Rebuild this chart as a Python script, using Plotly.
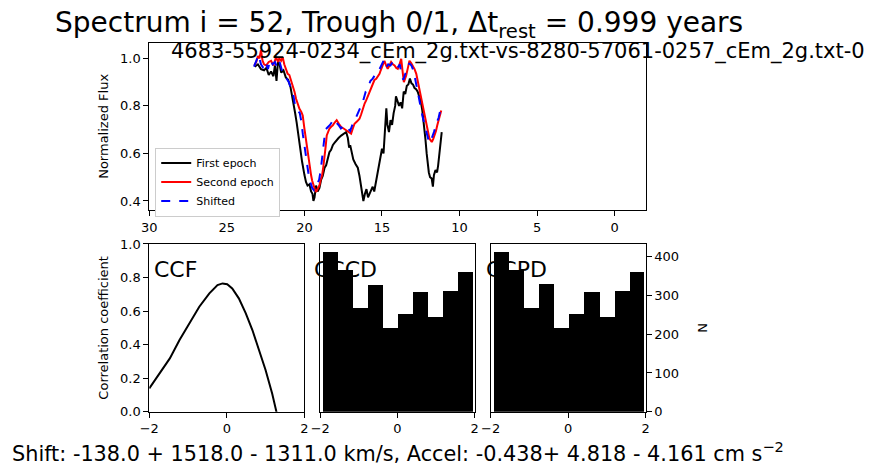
import plotly.graph_objects as go

# first epoch spectrum (rest wavelength, normalized flux)
first_wave = [23.2, 23.0, 22.8, 22.6, 22.45, 22.3, 22.15, 22.0, 21.9, 21.8, 21.7, 21.6, 21.5, 21.35,
              21.2, 21.05, 20.9, 20.75, 20.6, 20.5, 20.37, 20.25, 20.15, 20.0, 19.9, 19.8, 19.68,
              19.57, 19.48, 19.42, 19.35, 19.25, 19.15, 19.03, 18.92, 18.82, 18.7, 18.6, 18.5,
              18.39, 18.28, 18.17, 18.06, 17.95, 17.8, 17.63, 17.45, 17.31, 17.2, 17.12, 17.05,
              16.95, 16.85, 16.7, 16.56, 16.45, 16.35, 16.28, 16.2, 16.1, 16.0, 15.9, 15.8, 15.7,
              15.6, 15.5, 15.4, 15.3, 15.2, 15.1, 15.0, 14.9, 14.8, 14.72, 14.65, 14.55, 14.45,
              14.35, 14.25, 14.15, 14.1, 14.0, 13.9, 13.8, 13.7, 13.6, 13.5, 13.4, 13.3, 13.2,
              13.1, 13.0, 12.9, 12.8, 12.7, 12.6, 12.5, 12.4, 12.3, 12.2, 12.12, 12.05, 11.98,
              11.9, 11.8, 11.72, 11.65, 11.55, 11.45, 11.38, 11.3, 11.2, 11.15]
first_flux = [0.965, 0.975, 0.955, 0.95, 0.96, 0.93, 0.945, 0.925, 0.97, 0.905, 0.99, 0.975, 0.94, 0.95,
              0.92, 0.91, 0.88, 0.83, 0.77, 0.73, 0.665, 0.62, 0.565, 0.51, 0.48, 0.465, 0.47,
              0.44, 0.43, 0.40, 0.415, 0.465, 0.44, 0.455, 0.49, 0.505, 0.54, 0.55, 0.575,
              0.605, 0.615, 0.635, 0.645, 0.655, 0.665, 0.675, 0.685, 0.69, 0.665, 0.625, 0.635,
              0.6, 0.575, 0.555, 0.54, 0.505, 0.46, 0.43, 0.40, 0.43, 0.45, 0.415, 0.43, 0.445,
              0.46, 0.44, 0.475, 0.5, 0.54, 0.575, 0.62, 0.6, 0.69, 0.79, 0.72, 0.69, 0.74,
              0.72, 0.77, 0.80, 0.84, 0.82, 0.80, 0.815, 0.79, 0.86, 0.85, 0.885, 0.89, 0.915,
              0.895, 0.89, 0.875, 0.87, 0.86, 0.84, 0.82, 0.78, 0.73, 0.66, 0.6, 0.555, 0.52,
              0.5, 0.495, 0.46, 0.51, 0.53, 0.52, 0.55, 0.6, 0.66, 0.69]

# second epoch spectrum
second_wave = [23.23, 23.1, 23.0, 22.9, 22.8, 22.7, 22.6, 22.47, 22.3, 22.15, 22.0, 21.83, 21.7, 21.62,
               21.5, 21.4, 21.3, 21.18, 21.08, 20.97, 20.85, 20.75, 20.64, 20.54, 20.43, 20.32,
               20.2, 20.11, 20.0, 19.93, 19.85, 19.78, 19.72, 19.65, 19.57, 19.5, 19.42, 19.33,
               19.25, 19.15, 19.03, 18.95, 18.86, 18.78, 18.71, 18.63, 18.56, 18.48, 18.39, 18.28,
               18.17, 18.05, 17.92, 17.78, 17.63, 17.47, 17.31, 17.15, 16.99, 16.88, 16.77, 16.6,
               16.45, 16.34, 16.24, 16.12, 16.02, 15.92, 15.81, 15.7, 15.59, 15.48, 15.37, 15.26,
               15.16, 15.08, 15.01, 14.92, 14.84, 14.73, 14.63, 14.52, 14.41, 14.3, 14.19, 14.08,
               13.98, 13.87, 13.76, 13.68, 13.59, 13.51, 13.44, 13.33, 13.23, 13.12, 13.01, 12.9,
               12.79, 12.68, 12.58, 12.47, 12.37, 12.26, 12.15, 12.05, 11.94, 11.86, 11.79, 11.7,
               11.61, 11.52, 11.44, 11.3, 11.18]
second_flux = [0.97, 0.985, 1.01, 1.0, 1.034, 0.99, 0.975, 0.97, 0.985, 0.99, 0.97, 1.005, 0.985, 1.0,
               0.99, 1.005, 0.975, 0.956, 0.935, 0.93, 0.905, 0.887, 0.86, 0.83, 0.805, 0.788,
               0.775, 0.76, 0.704, 0.67, 0.634, 0.6, 0.564, 0.535, 0.508, 0.485, 0.466, 0.45,
               0.438, 0.45, 0.466, 0.49, 0.508, 0.545, 0.578, 0.63, 0.676, 0.69, 0.704, 0.712,
               0.718, 0.73, 0.74, 0.725, 0.711, 0.705, 0.697, 0.69, 0.683, 0.705, 0.725, 0.735,
               0.746, 0.765, 0.788, 0.81, 0.823, 0.84, 0.858, 0.88, 0.90, 0.91, 0.914, 0.925,
               0.935, 0.95, 0.963, 0.975, 0.99, 0.97, 0.956, 0.97, 0.985, 0.975, 0.97, 0.96,
               0.956, 0.975, 0.998, 0.95, 0.90, 0.915, 0.928, 0.96, 0.99, 0.98, 0.97, 0.955,
               0.935, 0.9, 0.858, 0.82, 0.788, 0.75, 0.718, 0.69, 0.662, 0.655, 0.648, 0.66,
               0.676, 0.695, 0.718, 0.75, 0.781]

# second epoch after the best-fit shift
shifted_wave = [23.25, 23.1, 22.95, 22.8, 22.65, 22.5, 22.35, 22.2, 22.05, 21.9, 21.75, 21.6, 21.45,
                21.3, 21.15, 21.0, 20.85, 20.7, 20.6, 20.45, 20.3, 20.2, 20.1, 19.98, 19.85, 19.75,
                19.62, 19.5, 19.38, 19.28, 19.18, 19.05, 18.95, 18.85, 18.75, 18.65, 18.5, 18.35,
                18.2, 18.05, 17.95, 17.8, 17.65, 17.5, 17.35, 17.2, 17.05, 16.95, 16.8, 16.65,
                16.5, 16.35, 16.2, 16.05, 15.9, 15.75, 15.6, 15.45, 15.3, 15.15, 15.0, 14.9, 14.75,
                14.6, 14.45, 14.3, 14.15, 14.0, 13.85, 13.75, 13.62, 13.5, 13.35, 13.25, 13.1,
                12.95, 12.85, 12.7, 12.55, 12.4, 12.25, 12.1, 12.0, 11.9, 11.8, 11.65, 11.5, 11.35,
                11.23]
shifted_flux = [0.965, 0.99, 1.015, 0.975, 0.96, 0.985, 0.955, 0.995, 0.975, 0.985, 0.96, 0.985, 0.95,
                0.94, 0.915, 0.9, 0.87, 0.84, 0.8, 0.78, 0.77, 0.735, 0.68, 0.62, 0.56, 0.52,
                0.48, 0.455, 0.445, 0.45, 0.47, 0.49, 0.53, 0.585, 0.655, 0.7, 0.71, 0.72,
                0.735, 0.745, 0.73, 0.72, 0.705, 0.715, 0.70, 0.705, 0.695, 0.715, 0.74, 0.755,
                0.775, 0.8, 0.825, 0.86, 0.875, 0.905, 0.915, 0.93, 0.935, 0.955, 0.975, 0.99, 0.96,
                0.975, 0.97, 0.985, 0.965, 0.96, 0.975, 0.93, 0.91, 0.935, 0.95, 0.98, 0.97,
                0.945, 0.91, 0.86, 0.8, 0.76, 0.72, 0.68, 0.655, 0.645, 0.66, 0.69, 0.725, 0.75,
                0.785]

# cross-correlation function
ccf_lag = [-2.0, -1.73, -1.47, -1.22, -0.96, -0.71, -0.45, -0.24, -0.11, 0.01, 0.14, 0.31, 0.49,
           0.66, 0.83, 1.0, 1.17, 1.27, 1.4]
ccf_r = [0.139, 0.229, 0.318, 0.427, 0.527, 0.626, 0.706, 0.755, 0.765, 0.76, 0.735, 0.676, 0.586,
         0.487, 0.368, 0.249, 0.109, 0.0, -0.12]

# CCCD / CCPD histograms (same bins)
bin_edges = [-1.93, -1.54, -1.15, -0.76, -0.37, 0.02, 0.41, 0.80, 1.19, 1.58, 1.96]
cccd_counts = [412, 366, 268, 328, 215, 253, 310, 245, 312, 361]
ccpd_counts = [412, 366, 268, 331, 215, 253, 310, 245, 312, 361]

title_text = "Spectrum i = 52, Trough 0/1, \u0394t<sub>rest</sub> = 0.999 years"
pair_text = "4683-55924-0234_cEm_2g.txt-vs-8280-57061-0257_cEm_2g.txt-0"
shift_text = ("Shift: -138.0 + 1518.0 - 1311.0 km/s, Accel: -0.438+ 4.818 - 4.161 cm s<sup>\u22122</sup>")

FONT = "DejaVu Sans"
bin_mid = [(a + b) / 2 for a, b in zip(bin_edges[:-1], bin_edges[1:])]
bin_w = [b - a for a, b in zip(bin_edges[:-1], bin_edges[1:])]

fig = go.Figure()

fig.add_trace(go.Scatter(x=first_wave, y=first_flux, mode="lines", name="First epoch",
                         line=dict(color="black", width=2), xaxis="x", yaxis="y"))
fig.add_trace(go.Scatter(x=second_wave, y=second_flux, mode="lines", name="Second epoch",
                         line=dict(color="red", width=2), xaxis="x", yaxis="y"))
fig.add_trace(go.Scatter(x=shifted_wave, y=shifted_flux, mode="lines", name="Shifted",
                         line=dict(color="blue", width=2, dash="dash"), xaxis="x", yaxis="y"))

fig.add_trace(go.Scatter(x=ccf_lag, y=ccf_r, mode="lines", showlegend=False,
                         line=dict(color="black", width=2), xaxis="x2", yaxis="y2"))
fig.add_trace(go.Bar(x=bin_mid, y=cccd_counts, width=bin_w, marker=dict(color="black", line_width=0),
                     showlegend=False, xaxis="x3", yaxis="y3"))
fig.add_trace(go.Bar(x=bin_mid, y=ccpd_counts, width=bin_w, marker=dict(color="black", line_width=0),
                     showlegend=False, xaxis="x4", yaxis="y4"))

axis_style = dict(showline=True, linecolor="black", linewidth=1, mirror=True, showgrid=False,
                  zeroline=False, ticks="outside", ticklen=5, tickwidth=1, tickcolor="black",
                  tickfont=dict(family=FONT, size=13, color="black"), automargin=False)

left_dom = [0.1712, 0.7405]
top_dom = [0.5588, 0.9103]
bot_dom = [0.1351, 0.4874]

fig.update_layout(
    width=872, height=476,
    margin=dict(l=0, r=0, t=0, b=0),
    paper_bgcolor="white", plot_bgcolor="white",
    bargap=0,
    font=dict(family=FONT, color="black"),
    xaxis=dict(domain=left_dom, range=[30, -2], tickvals=[30, 25, 20, 15, 10, 5, 0],
               anchor="y", **axis_style),
    yaxis=dict(domain=top_dom, range=[0.362, 1.066], tickvals=[0.4, 0.6, 0.8, 1.0],
               tickformat=".1f", anchor="x",
               title=dict(text="Normalized Flux", font=dict(size=13), standoff=8), **axis_style),
    xaxis2=dict(domain=[0.1712, 0.349], range=[-2, 2], tickvals=[-2, 0, 2], anchor="y2", **axis_style),
    yaxis2=dict(domain=bot_dom, range=[0, 1], tickvals=[0, 0.2, 0.4, 0.6, 0.8, 1.0], tickformat=".1f",
                anchor="x2", title=dict(text="Correlation coefficient", font=dict(size=13), standoff=8),
                **axis_style),
    xaxis3=dict(domain=[0.3673, 0.5444], range=[-2, 2], tickvals=[-2, 0, 2], anchor="y3", **axis_style),
    yaxis3=dict(domain=bot_dom, range=[0, 433], anchor="x3", showticklabels=False,
                **{**axis_style, "ticks": ""}),
    xaxis4=dict(domain=[0.5627, 0.7405], range=[-2, 2], tickvals=[-2, 0, 2], anchor="y4", **axis_style),
    yaxis4=dict(domain=bot_dom, range=[0, 433], tickvals=[0, 100, 200, 300, 400], anchor="x4",
                side="right", title=dict(text="N", font=dict(size=13), standoff=19), **axis_style),
    legend=dict(x=0.178, y=0.69, xanchor="left", yanchor="top", bgcolor="white",
                bordercolor="#cccccc", borderwidth=1, font=dict(family=FONT, size=11),
                tracegroupgap=0, itemwidth=30),
)

fig.add_annotation(text=title_text, x=0.457, y=0.9475, xref="paper", yref="paper",
                   xanchor="center", yanchor="middle", showarrow=False,
                   font=dict(family=FONT, size=28))
fig.add_annotation(text=pair_text, x=0.5946, y=0.8908, xref="paper", yref="paper",
                   xanchor="center", yanchor="middle", showarrow=False,
                   font=dict(family=FONT, size=21))
fig.add_annotation(text=shift_text, x=0.456, y=0.0504, xref="paper", yref="paper",
                   xanchor="center", yanchor="middle", showarrow=False,
                   font=dict(family=FONT, size=20.8))
for label, xpos in [("CCF", 0.1745), ("CCCD", 0.3578), ("CCPD", 0.555)]:
    fig.add_annotation(text=label, x=xpos, y=0.4328, xref="paper", yref="paper",
                       xanchor="left", yanchor="middle", showarrow=False,
                       font=dict(family=FONT, size=22))

# drop the page's default body margin so the figure sits at the window corner
fig.write_html("out.html", config={"displayModeBar": False},
               post_script="document.body.style.margin='0';")
